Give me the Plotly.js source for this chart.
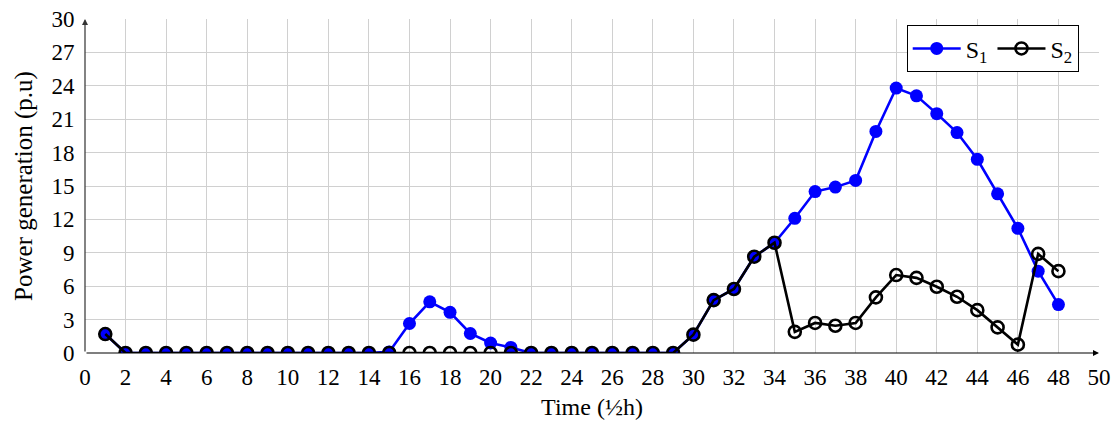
<!DOCTYPE html>
<html>
<head>
<meta charset="utf-8">
<script src="https://cdn.plot.ly/plotly-3.0.1.min.js"></script>
<style>html,body{margin:0;padding:0;background:#fff;}#chart{width:1113px;height:423px;}</style>
</head>
<body>
<div id="chart"></div>
<script>
const timeSlots = [1,2,3,4,5,6,7,8,9,10,11,12,13,14,15,16,17,18,19,20,21,22,23,24,25,26,27,28,29,30,31,32,33,34,35,36,37,38,39,40,41,42,43,44,45,46,47,48];
const s1Values = [1.7,0,0,0,0,0,0,0,0,0,0,0,0,0,0.1,2.65,4.6,3.65,1.75,0.9,0.5,0,0,0,0,0,0,0,0,1.65,4.75,5.75,8.65,9.9,12.1,14.5,14.9,15.5,19.9,23.8,23.1,21.5,19.8,17.4,14.3,11.2,7.35,4.35];
const s2Values = [1.7,0,0,0,0,0,0,0,0,0,0,0,0,0,0,0,0,0,0,0,0,0,0,0,0,0,0,0,0,1.65,4.75,5.75,8.65,9.9,1.9,2.7,2.45,2.7,5.0,7.0,6.75,5.95,5.05,3.85,2.3,0.75,8.9,7.35];
const xTicks = [0,2,4,6,8,10,12,14,16,18,20,22,24,26,28,30,32,34,36,38,40,42,44,46,48,50];
const yTicks = [0,3,6,9,12,15,18,21,24,27,30];

const font = "'Liberation Serif', 'DejaVu Serif', serif";

const traces = [
  {x: timeSlots, y: s1Values, name: 'S<sub>1</sub>', mode: 'lines+markers', type: 'scatter',
   line: {color: '#0000ff', width: 2.6},
   marker: {color: '#0000ff', size: 13, symbol: 'circle'}},
  {x: timeSlots, y: s2Values, name: 'S<sub>2</sub>', mode: 'lines+markers', type: 'scatter',
   line: {color: '#000000', width: 2.6},
   marker: {color: '#000000', size: 12, symbol: 'circle-open', line: {width: 2.6, color: '#000000'}}}
];

const layout = {
  width: 1113, height: 423,
  margin: {l: 85, r: 14, t: 19, b: 70},
  paper_bgcolor: '#fff', plot_bgcolor: '#fff',
  font: {family: font, size: 23, color: '#000'},
  showlegend: true,
  legend: {orientation: 'h', x: 0.98, y: 0.981, xanchor: 'right', yanchor: 'top',
           bordercolor: '#000', borderwidth: 1, bgcolor: '#fff',
           font: {family: font, size: 24}, itemwidth: 48, tracegroupgap: 0},
  xaxis: {range: [0, 50], tickvals: xTicks, ticktext: xTicks.map(String),
          showgrid: true, gridcolor: '#d0d0d0', gridwidth: 1, zeroline: false,
          showline: false, ticks: 'outside', ticklen: 3, tickcolor: 'rgba(0,0,0,0)',
          tickfont: {family: font, size: 23},
          title: {text: 'Time (½h)', font: {family: font, size: 24}, standoff: 9}},
  yaxis: {range: [0, 30], tickvals: yTicks, ticktext: yTicks.map(String),
          showgrid: true, gridcolor: '#d0d0d0', gridwidth: 1, zeroline: false,
          showline: false, ticks: 'outside', ticklen: 5, tickcolor: 'rgba(0,0,0,0)',
          tickfont: {family: font, size: 23},
          title: {text: 'Power generation (p.u)', font: {family: font, size: 25}, standoff: 11}},
  annotations: [
    {x: 50, y: 0, ax: 0, ay: 0, xref: 'x', yref: 'y', axref: 'x', ayref: 'y', text: '',
     showarrow: true, arrowhead: 2, arrowsize: 1, arrowwidth: 1.2, arrowcolor: '#000'},
    {x: 0, y: 30, ax: 0, ay: 0, xref: 'x', yref: 'y', axref: 'x', ayref: 'y', text: '',
     showarrow: true, arrowhead: 2, arrowsize: 1, arrowwidth: 1.2, arrowcolor: '#333'}
  ]
};

Plotly.newPlot('chart', traces, layout, {displayModeBar: false, staticPlot: true});
</script>
</body>
</html>
